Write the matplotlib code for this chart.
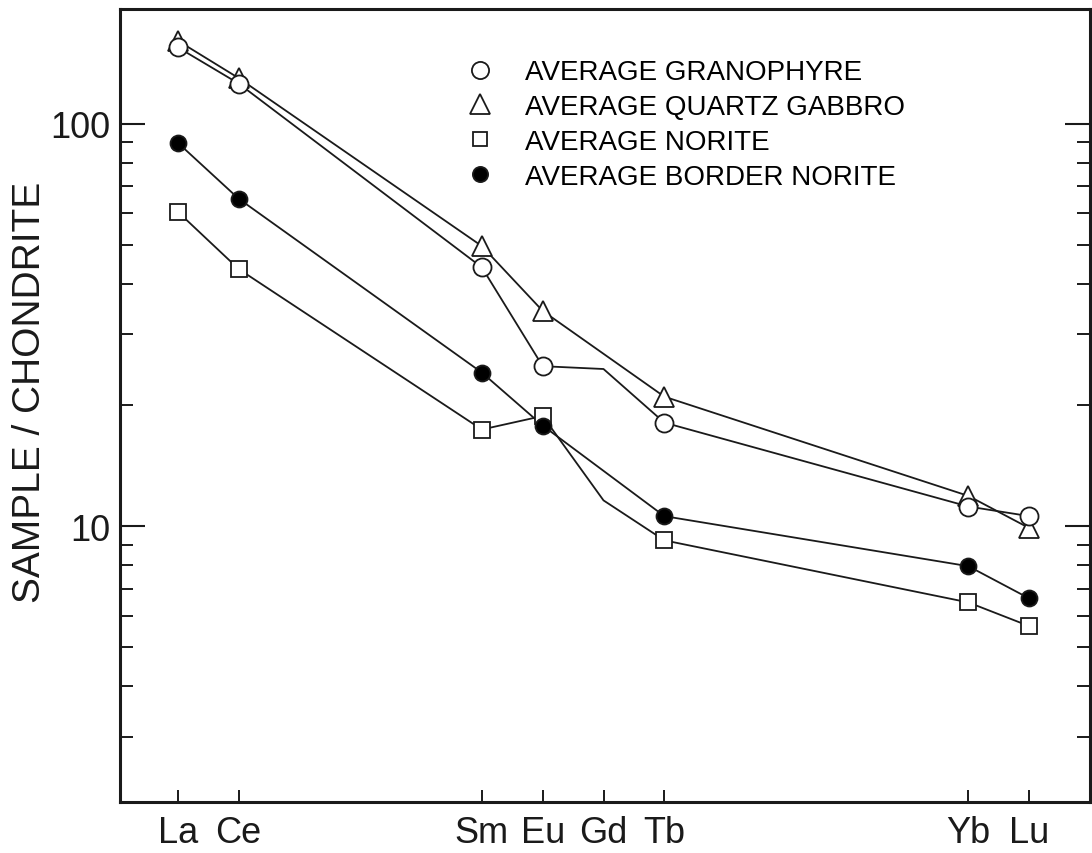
import numpy as np
import matplotlib
matplotlib.use("Agg")
import matplotlib.pyplot as plt
from matplotlib.ticker import LogLocator, NullFormatter

plt.rcParams['font.family'] = ['Liberation Sans', 'DejaVu Sans']

# REE plotted at atomic number positions
elements = ["La", "Ce", "Sm", "Eu", "Gd", "Tb", "Yb", "Lu"]
atomic_numbers = [57, 58, 62, 63, 64, 65, 70, 71]

# chondrite-normalised values (None = not plotted)
granophyre = [155, 126, 44.0, 25.0, 24.6, 18.1, 11.2, 10.6]
quartz_gabbro = [161, 130, 49.7, 34.3, None, 21.0, 11.9, 9.9]
norite = [60.5, 43.6, 17.4, 18.8, 11.6, 9.23, 6.47, 5.65]
border_norite = [89.8, 65.2, 24.1, 17.8, None, 10.6, 7.96, 6.62]

labels = ["AVERAGE GRANOPHYRE", "AVERAGE QUARTZ GABBRO",
          "AVERAGE NORITE", "AVERAGE BORDER NORITE"]

fig = plt.figure(figsize=(10.92, 8.54), dpi=100)
ax = fig.add_axes([0.1099, 0.0597, 0.8883, 0.9286])

styles = {
    "AVERAGE GRANOPHYRE": dict(marker="o", ms=13, mfc="white", z=5),
    "AVERAGE QUARTZ GABBRO": dict(marker="^", ms=15, mfc="white", z=4),
    "AVERAGE NORITE": dict(marker="s", ms=11, mfc="white", z=4),
    "AVERAGE BORDER NORITE": dict(marker="o", ms=11.5, mfc="black", z=5),
}

handles = {}
for name, vals in zip(labels, [granophyre, quartz_gabbro, norite, border_norite]):
    st = styles[name]
    x = np.array([a for a, v in zip(atomic_numbers, vals) if v is not None], dtype=float)
    y = np.array([v for v in vals if v is not None], dtype=float)
    ax.plot(x, y, color="#1a1a1a", lw=1.3, zorder=2)
    # markers everywhere except the Gd line vertex
    keep = x != 64
    h, = ax.plot(x[keep], y[keep], ls="none", marker=st["marker"], ms=st["ms"],
                 mfc=st["mfc"], mec="#1a1a1a", mew=1.3, zorder=st["z"], label=name)
    handles[name] = h

ax.set_yscale("log")
ax.set_ylim(2.065, 193)
ax.set_xlim(56.05, 72.0)

ax.set_xticks(atomic_numbers)
ax.set_xticklabels(elements)
ax.set_yticks([10, 100])
ax.set_yticklabels(["10", "100"])
ax.yaxis.set_minor_locator(LogLocator(base=10, subs=np.arange(2, 10)))
ax.yaxis.set_minor_formatter(NullFormatter())

ax.tick_params(axis="x", direction="in", length=8.5, width=1.4, labelsize=26,
               pad=9, top=False, colors="#1a1a1a")
ax.tick_params(axis="y", which="major", direction="in", length=18, width=1.5,
               labelsize=26, pad=7, left=True, right=True, colors="#1a1a1a")
ax.tick_params(axis="y", which="minor", direction="in", length=9.5, width=1.4,
               left=True, right=True, colors="#1a1a1a")

for sp in ax.spines.values():
    sp.set_linewidth(2.2)
    sp.set_color("#1a1a1a")

ax.set_ylabel("SAMPLE / CHONDRITE", fontsize=28, color="#1a1a1a")
ax.yaxis.set_label_coords(-0.074, 0.518)

ax.legend(handles=[handles[n] for n in labels], loc="upper left",
          bbox_to_anchor=(0.3568, 0.9366), frameon=False, fontsize=20,
          handlelength=1.0, handletextpad=1.12, labelspacing=0.32, borderpad=0,
          borderaxespad=0, markerscale=0.95)

fig.savefig("out.png", dpi=100)
